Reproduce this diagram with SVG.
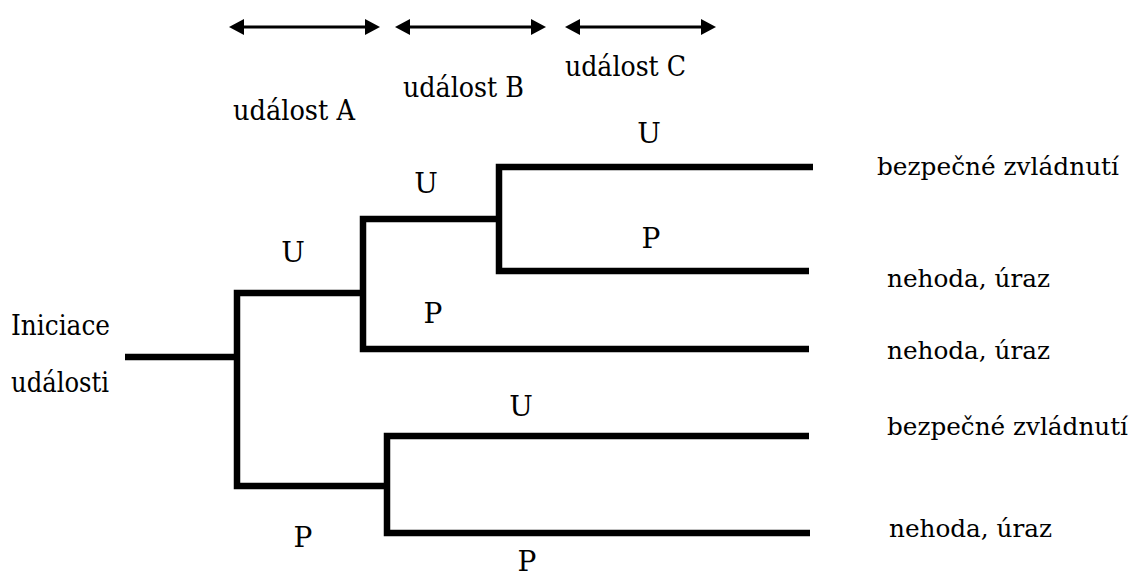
<svg xmlns="http://www.w3.org/2000/svg" width="1133" height="578" viewBox="0 0 1133 578">
  <defs>
    <marker id="head" viewBox="0 -9 16 18" refX="0" refY="0" markerWidth="16" markerHeight="18" markerUnits="userSpaceOnUse" orient="auto-start-reverse">
      <path d="M0,-8 L15,0 L0,8 Z" fill="#000"/>
    </marker>
  </defs>
  <style>
    .lbl { text-anchor: middle; }
    .out { font-size: 25px; }
    .span { stroke: #000; stroke-width: 3; fill: none; marker-start: url(#head); marker-end: url(#head); }
    .branch { stroke: #000; stroke-width: 6.5; fill: none; stroke-linejoin: miter; stroke-linecap: butt; }
  </style>
  <rect width="1133" height="578" fill="#fff"/>

  <g font-family="DejaVu Serif, serif" font-size="28" fill="#000">
    <!-- event span arrows and headings -->
    <g id="event-a">
      <path class="span" d="M244,27 H365"/>
      <text x="233" y="120" textLength="122" lengthAdjust="spacingAndGlyphs">událost A</text>
    </g>
    <g id="event-b">
      <path class="span" d="M410,27 H531"/>
      <text x="403" y="97" textLength="121" lengthAdjust="spacingAndGlyphs">událost B</text>
    </g>
    <g id="event-c">
      <path class="span" d="M580,27 H701"/>
      <text x="565" y="76" textLength="121" lengthAdjust="spacingAndGlyphs">událost C</text>
    </g>

    <!-- initiating event -->
    <g id="initiation">
      <text x="11" y="335" textLength="99" lengthAdjust="spacingAndGlyphs">Iniciace</text>
      <text x="11" y="392" textLength="98" lengthAdjust="spacingAndGlyphs">události</text>
    </g>

    <!-- tree branches -->
    <g id="connectors">
      <path class="branch" d="M125,357 H237"/>
      <path class="branch" d="M363,293 H237 V486 H387"/>
      <path class="branch" d="M499,219 H363 V349 H809"/>
      <path class="branch" d="M813,167 H499 V271 H809"/>
      <path class="branch" d="M809,436 H387 V533 H810"/>
    </g>

    <!-- branch labels (U = success, P = failure) -->
    <g id="branch-labels">
      <text class="lbl" x="649" y="143">U</text>
      <text class="lbl" x="426" y="193">U</text>
      <text class="lbl" x="651" y="248">P</text>
      <text class="lbl" x="293" y="262">U</text>
      <text class="lbl" x="433" y="323">P</text>
      <text class="lbl" x="521" y="416">U</text>
      <text class="lbl" x="303" y="547">P</text>
      <text class="lbl" x="527" y="571">P</text>
    </g>

    <!-- outcomes -->
    <g id="outcome-1"><text class="out" x="877" y="175" textLength="242" lengthAdjust="spacingAndGlyphs">bezpečné zvládnutí</text></g>
    <g id="outcome-2"><text class="out" x="887" y="287" textLength="163" lengthAdjust="spacingAndGlyphs">nehoda, úraz</text></g>
    <g id="outcome-3"><text class="out" x="887" y="359" textLength="163" lengthAdjust="spacingAndGlyphs">nehoda, úraz</text></g>
    <g id="outcome-4"><text class="out" x="887" y="435" textLength="241" lengthAdjust="spacingAndGlyphs">bezpečné zvládnutí</text></g>
    <g id="outcome-5"><text class="out" x="889" y="537" textLength="163" lengthAdjust="spacingAndGlyphs">nehoda, úraz</text></g>
  </g>
</svg>
